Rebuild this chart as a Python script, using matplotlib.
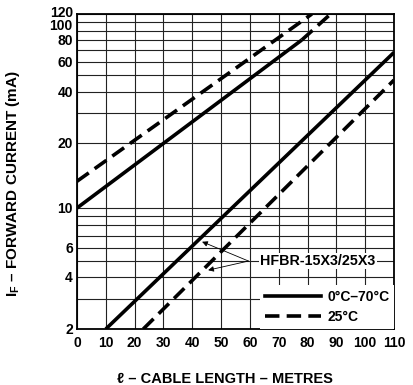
import numpy as np
import matplotlib
matplotlib.use("Agg")
import matplotlib.pyplot as plt
import matplotlib.transforms as mtransforms
from matplotlib.lines import Line2D

plt.rcParams["font.family"] = ["Liberation Sans", "DejaVu Sans"]
plt.rcParams["font.weight"] = "bold"
plt.rcParams["mathtext.fontset"] = "custom"
plt.rcParams["mathtext.rm"] = "Liberation Sans:bold"
plt.rcParams["mathtext.it"] = "Liberation Sans:bold"
plt.rcParams["mathtext.bf"] = "Liberation Sans:bold"

# cable length (m) vs. forward current (mA)
len_solid_hi = [0, 78]
cur_solid_hi = [10, 80]
len_solid_hi_tail = [78, 88]
cur_solid_hi_tail = [80, 120]
len_dash_hi = [0, 81.5]
cur_dash_hi = [13.3, 120]
len_solid_lo = [10, 110]
cur_solid_lo = [2, 68]
len_dash_lo = [23, 110]
cur_dash_lo = [2, 47]

x_ticks = list(range(0, 111, 10))
y_major = [2, 4, 6, 10, 20, 40, 60, 80, 100, 120]
y_minor = [3, 5, 7, 8, 9, 30, 50, 70, 90]

# the printed log axis is not evenly spaced; map each labelled value
# to its height on the grid (fraction of axis height)
scale_vals = np.log10([2, 4, 6, 10, 20, 40, 60, 80, 100, 120])
scale_pos = np.array([0, 52, 81, 121, 186, 237, 267, 289, 306.5, 315]) / 315.0


def fwd(v):
    v = np.log10(np.maximum(np.asarray(v, dtype=float), 1e-9))
    return np.interp(v, scale_vals, scale_pos)


def inv(p):
    return 10 ** np.interp(np.asarray(p, dtype=float), scale_pos, scale_vals)


fig = plt.figure(figsize=(4.13, 3.85), dpi=100)
ax = fig.add_axes([77 / 413, 1 - 329 / 385, 317 / 413, 315 / 385])
ax.set_yscale("function", functions=(fwd, inv))
ax.set_xlim(0, 110)
ax.set_ylim(2, 120)

ax.set_xticks(x_ticks)
ax.set_yticks(y_major)
ax.set_yticks(y_minor, minor=True)
ax.set_yticklabels([str(v) for v in y_major])
ax.yaxis.set_minor_formatter(plt.NullFormatter())
ax.tick_params(axis="both", which="both", length=0, labelsize=10)
ax.tick_params(axis="x", pad=5)
ax.tick_params(axis="y", pad=3)

# 100 and 120 sit close together, spread their labels a little
nudge = {100: -2.5, 120: 2.0}
for tick, val in zip(ax.yaxis.get_major_ticks(), y_major):
    if val in nudge:
        off = mtransforms.ScaledTranslation(0, nudge[val] / 100, fig.dpi_scale_trans)
        tick.label1.set_transform(tick.label1.get_transform() + off)

ax.grid(True, which="both", color="#222222", linewidth=0.8)
ax.set_axisbelow(True)
for s in ax.spines.values():
    s.set_linewidth(1.3)
    s.set_color("black")

lw = 2.6
dash = (4, 2)
ax.plot(len_solid_hi, cur_solid_hi, color="black", lw=lw, solid_capstyle="butt")
ax.plot(len_solid_hi_tail, cur_solid_hi_tail, color="black", lw=lw, dashes=dash)
ax.plot(len_dash_hi, cur_dash_hi, color="black", lw=lw, dashes=dash)
ax.plot(len_solid_lo, cur_solid_lo, color="black", lw=lw, solid_capstyle="butt")
ax.plot(len_dash_lo, cur_dash_lo, color="black", lw=lw, dashes=dash)

# part-number callout
ax.text(63.5, 5.0, "HFBR-15X3/25X3", fontsize=10.3, fontweight="bold",
        ha="left", va="center",
        bbox=dict(facecolor="white", edgecolor="none", pad=1.0))
arrow = dict(arrowstyle="-|>", color="black", lw=0.6, mutation_scale=8,
             shrinkA=0, shrinkB=0)
ax.annotate("", xy=(43.4, 6.5), xytext=(59.5, 5.0), arrowprops=arrow)
ax.annotate("", xy=(45.5, 4.4), xytext=(59.5, 5.0), arrowprops=arrow)

handles = [
    Line2D([], [], color="black", lw=lw),
    Line2D([], [], color="black", lw=lw, dashes=dash),
]
leg = ax.legend(handles, ["0°C–70°C", "25°C"], loc="lower right",
                bbox_to_anchor=(1.0, 0.0), borderaxespad=0,
                handlelength=4.0, handletextpad=0.45, labelspacing=0.45,
                borderpad=0.35, fontsize=10, frameon=True, fancybox=False)
leg.get_frame().set_facecolor("white")
leg.get_frame().set_edgecolor("none")
leg.get_frame().set_alpha(1)

ax.set_xlabel("ℓ – CABLE LENGTH – METRES", fontsize=10.5, fontweight="bold")
ax.xaxis.set_label_coords(0.467, -0.137)
ax.set_ylabel(r"$\mathrm{I_F}$ – FORWARD CURRENT (mA)", fontsize=11,
              fontweight="bold")
ax.yaxis.set_label_coords(-0.175, 0.462)

fig.savefig("out.png", dpi=100)
